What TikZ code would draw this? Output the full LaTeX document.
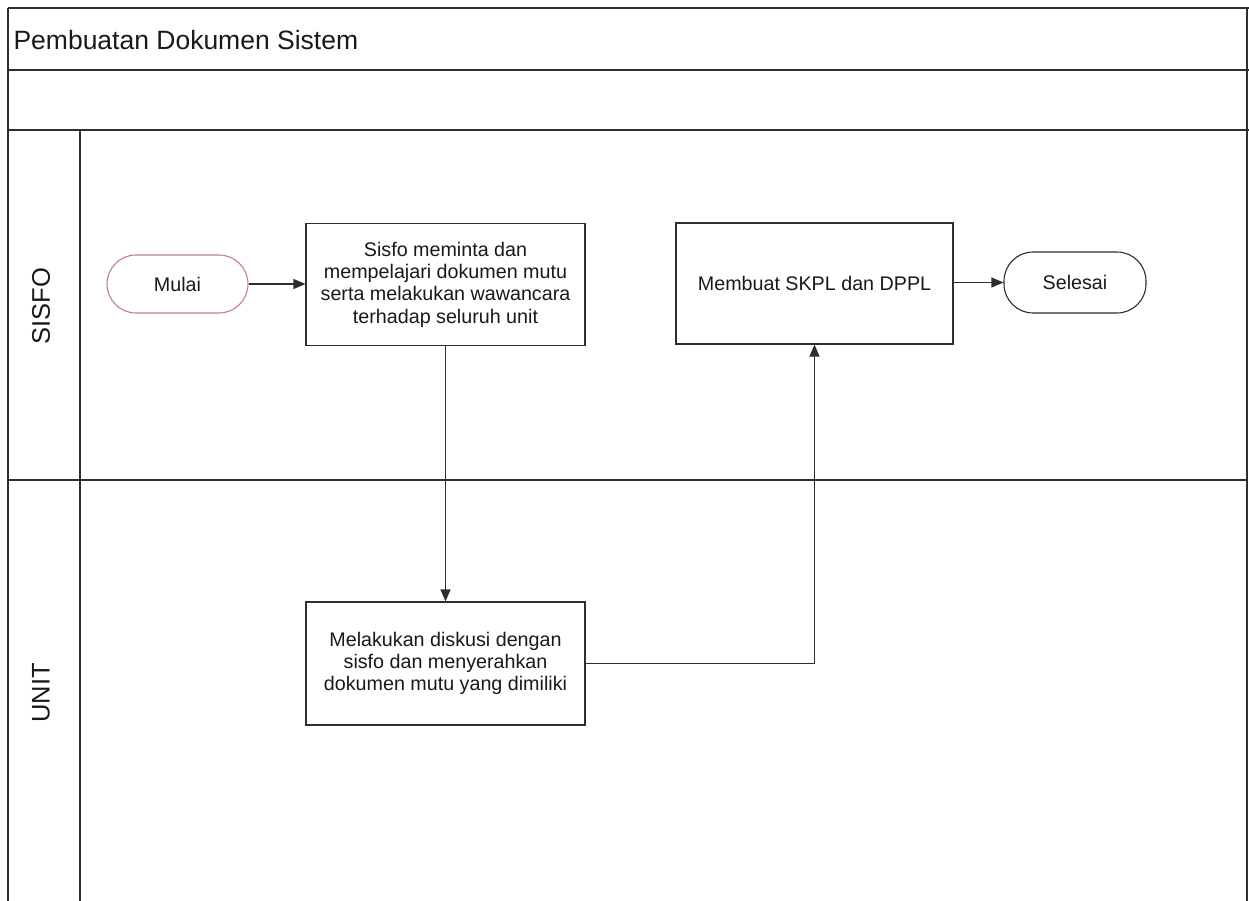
\documentclass[tikz,border=0pt]{standalone}
\usepackage{fontspec}
\setmainfont{Liberation Sans}
\usetikzlibrary{arrows.meta}
\definecolor{ink}{HTML}{2E2E2E}
\definecolor{pinkline}{HTML}{C08088}
\tikzset{
  frame/.style={draw=ink, line width=1.8pt},
  lane/.style={draw=ink, line width=1.1pt},
  proc/.style={draw=ink, line width=1.1pt, fill=white, align=center, inner sep=2pt,
    font=\fontsize{19.7}{22.3}\selectfont, text=black!90},
  term/.style={draw=ink, line width=1.1pt, fill=white, rounded corners=29pt, align=center,
    font=\fontsize{19.7}{22.3}\selectfont, text=black!90},
  flow/.style={draw=ink, line width=1.1pt, -{Triangle[length=12pt,width=10pt]}},
  lanelabel/.style={rotate=90, font=\fontsize{25.5}{28}\selectfont, text=black!90},
}
\begin{document}
\begin{tikzpicture}[x=1pt, y=-1pt]
\useasboundingbox (0,0) rectangle (1249,901);
% frame
\draw[frame] (8,8) -- (1249,8);
\draw[frame] (8,70) -- (1249,70);
\draw[frame] (8,130) -- (1249,130);
\draw[lane] (8,8) -- (8,901);
\draw[lane] (1247,8) -- (1247,901);
\draw[lane] (80,130) -- (80,901);
\draw[lane] (8,480) -- (1247,480);
% title and lane labels
\node[anchor=west, font=\fontsize{26.5}{30}\selectfont, text=black!90] (title) at (10,40) {Pembuatan Dokumen Sistem};
\node[lanelabel] (sisfo) at (41,306) {SISFO};
\node[lanelabel] (unit) at (41,693) {UNIT};
% nodes
\node[term, draw=pinkline, minimum width=141pt, minimum height=58pt] (mulai) at (177.5,284) {Mulai};
\node[proc, minimum width=279pt, minimum height=122pt] (b1) at (445.5,284.5)
  {Sisfo meminta dan\\mempelajari dokumen mutu\\serta melakukan wawancara\\terhadap seluruh unit};
\node[proc, minimum width=277pt, minimum height=121pt] (b2) at (814.5,283.5) {Membuat SKPL dan DPPL};
\node[term, minimum width=142pt, minimum height=61pt] (selesai) at (1075,282.5) {Selesai};
\node[proc, minimum width=279pt, minimum height=123pt] (b3) at (445.5,663.5)
  {Melakukan diskusi dengan\\sisfo dan menyerahkan\\dokumen mutu yang dimiliki};
% connectors
\draw[flow] (mulai.east) -- (b1.west |- mulai.east);
\draw[flow] (b1.south) -- (b3.north);
\draw[flow] (b3.east) -| (b2.south);
\draw[flow] (b2.east |- selesai.west) -- (selesai.west);
\end{tikzpicture}
\end{document}
